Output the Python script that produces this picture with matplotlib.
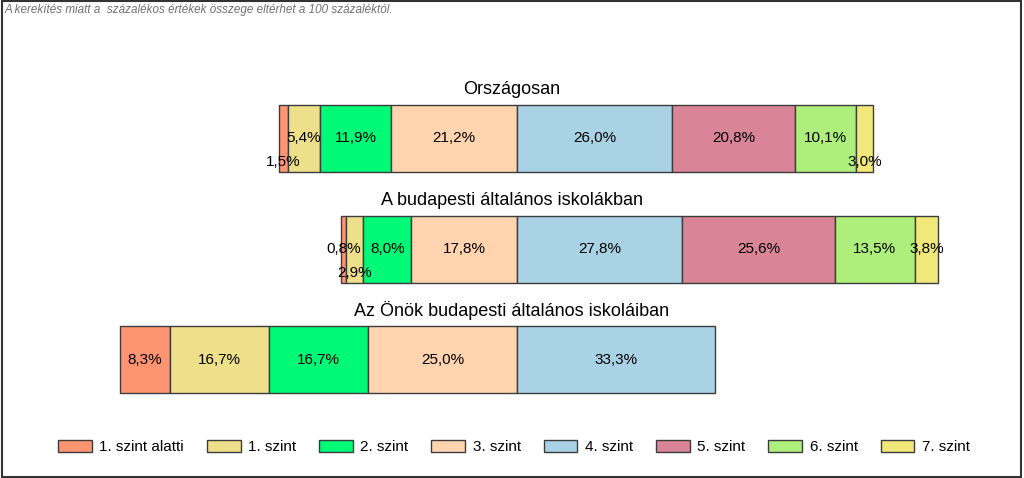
import numpy as np
import matplotlib
matplotlib.use('Agg')
import matplotlib.pyplot as plt
from matplotlib.patches import Rectangle, Patch

plt.rcParams['font.family'] = ['Liberation Sans', 'DejaVu Sans']

# data
levels = ['1. szint alatti', '1. szint', '2. szint', '3. szint',
          '4. szint', '5. szint', '6. szint', '7. szint']
groups = ['Országosan', 'A budapesti általános iskolákban',
          'Az Önök budapesti általános iskoláiban']
orszagos = [1.5, 5.4, 11.9, 21.2, 26.0, 20.8, 10.1, 3.0]
budapest = [0.8, 2.9, 8.0, 17.8, 27.8, 25.6, 13.5, 3.8]
onok = [8.3, 16.7, 16.7, 25.0, 33.3, 0, 0, 0]
note = 'A kerekítés miatt a  százalékos értékek összege eltérhet a 100 százaléktól.'

colors = ['#FF9473', '#EEE08A', '#00FA78', '#FFD4AE',
          '#A9D3E5', '#D98497', '#ADEF7A', '#F1E87A']

series = [orszagos, budapest, onok]

# labels of tiny segments pushed below the centre line
shift_down = {(0, 0), (0, 7), (1, 1)}

W, H = 1024, 478
fig = plt.figure(figsize=(W / 100, H / 100), dpi=100)
ax = fig.add_axes([0, 0, 1, 1])
ax.set_axis_off()

px_per_pct = 5.95
zero_px = 517
ax.set_xlim(-zero_px / px_per_pct, (W - zero_px) / px_per_pct)
row_px = 110.5
first_px = 138.5
ax.set_ylim((H - first_px) / row_px, -first_px / row_px)

bar_h = 67 / row_px
for i, vals in enumerate(series):
    left = -sum(vals[:4])
    for j, v in enumerate(vals):
        if v <= 0:
            continue
        ax.barh(i, v, left=left, height=bar_h, color=colors[j],
                edgecolor='#3c3c3c', linewidth=1)
        y = i + (0.213 if (i, j) in shift_down else 0)
        ax.text(left + v / 2, y, f'{v:.1f}'.replace('.', ',') + '%',
                ha='center', va='center', fontsize=11, color='black')
        left += v
    ax.text(0.5, i - 0.44, groups[i], transform=ax.get_yaxis_transform(),
            ha='center', va='center', fontsize=13, color='black')

fig.text(5 / W, 1 - 10 / H, note, ha='left', va='center', fontsize=8.4,
         style='italic', color='#707070')

handles = [Patch(facecolor=c, edgecolor='#3c3c3c', linewidth=1) for c in colors]
fig.legend(handles, levels, loc='center', ncol=8, frameon=False,
           bbox_to_anchor=(514 / W, 1 - 447 / H), fontsize=11,
           handlelength=2.2, handleheight=0.9, handletextpad=0.5,
           columnspacing=1.5)

fig.patches.append(Rectangle((0.0015, 0.003), 0.996, 0.994, transform=fig.transFigure,
                             fill=False, edgecolor='#333333', linewidth=1.5))

fig.savefig('out.png', dpi=100)
